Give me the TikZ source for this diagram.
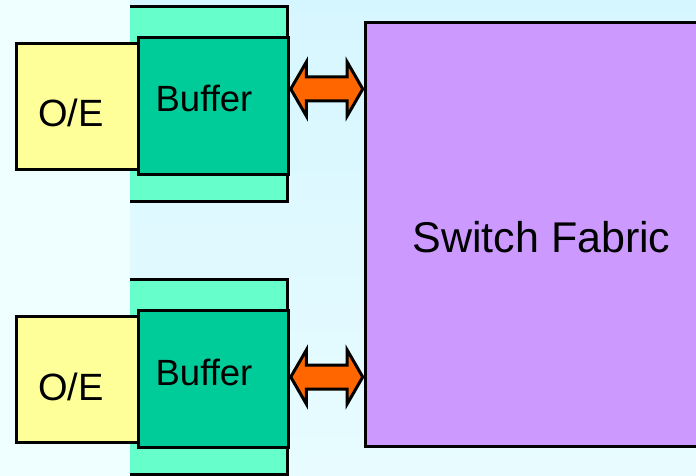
\documentclass[tikz,border=0pt]{standalone}
\usepackage{xcolor}
\usepackage{fontspec}
\setmainfont{Liberation Sans}
\usepackage{tikz}
\usetikzlibrary{positioning, calc, shapes.arrows}
\definecolor{SwBgLeft}{HTML}{EFFFFF}
\definecolor{SwBgTop}{HTML}{D6F6FF}
\definecolor{SwBgBot}{HTML}{E8FCFF}
\definecolor{SwYellow}{HTML}{FFFF99}
\definecolor{SwGreen}{HTML}{00CC99}
\definecolor{SwMint}{HTML}{66FFCC}
\definecolor{SwLilac}{HTML}{CC99FF}
\definecolor{SwOrange}{HTML}{FF6600}

\begin{document}
\begin{tikzpicture}[x=1pt, y=-1pt,
    oebox/.style={draw=black, line width=3pt, fill=SwYellow, anchor=north west,
      minimum width=122.5pt, minimum height=126pt, inner sep=0pt},
    bufbox/.style={draw=black, line width=3pt, fill=SwGreen, anchor=north west,
      minimum width=150pt, minimum height=137pt, inner sep=0pt},
    fabricbox/.style={draw=black, line width=3pt, fill=SwLilac, anchor=north west,
      minimum width=360pt, minimum height=423pt, inner sep=0pt},
    linkarrow/.style={double arrow, draw=black, line width=3pt, fill=SwOrange,
      minimum height=72pt, inner xsep=0pt, inner ysep=10.5pt,
      double arrow head extend=15pt, double arrow tip angle=120},
    lbl/.style={anchor=base, font=\fontsize{36.5}{40}\selectfont}]
  \useasboundingbox (0,0) rectangle (696,476);
  \clip (0,0) rectangle (696,476);
  % background
  \fill[SwBgLeft] (0,0) rectangle (130,476);
  \shade[top color=SwBgTop, bottom color=SwBgBot] (130,0) rectangle (696,476);

  \node[fabricbox] (fabric) at (363.5,21.5) {};
  \node[anchor=base, font=\fontsize{43}{48}\selectfont] (fabriclbl) at (541.5,252) {Switch Fabric};

  \foreach \p/\dy/\ay in {1/0/89, 2/273/377}{
    % mint panel behind the buffer, open on the left
    \fill[SwMint] (130,6.5+\dy) rectangle (287,201.5+\dy);
    \draw[line width=3pt] (130,6.5+\dy) -| (287,201.5+\dy) -- (130,201.5+\dy);
    \node[oebox] (oe\p) at (14.5,42+\dy) {};
    \node[bufbox] (buf\p) at (137,36+\dy) {};
    \node[lbl, font=\fontsize{38}{42}\selectfont] (oelbl\p) at (71,127+\dy) {O/E};
    \node[lbl] (buflbl\p) at (204,112+\dy) {Buffer};
    \node[linkarrow] (link\p) at ($(buf\p.east |- 0,\ay)!.5!(fabric.west |- 0,\ay)$) {};
  }
\end{tikzpicture}
\end{document}
